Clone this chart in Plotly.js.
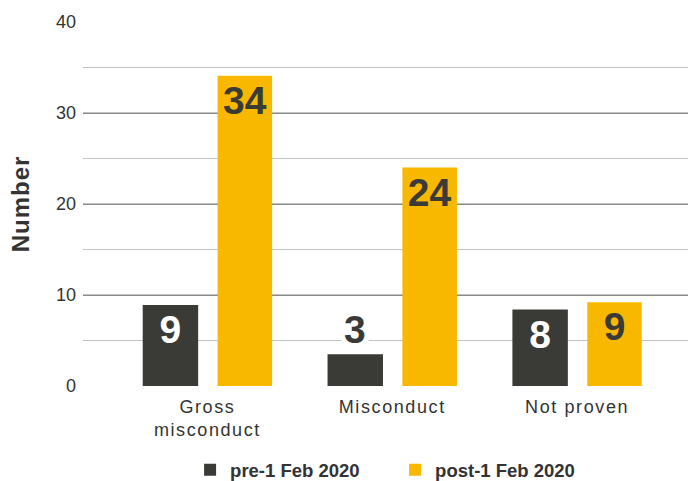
<!DOCTYPE html>
<html><head><meta charset="utf-8">
<script src="https://cdn.plot.ly/plotly-3.0.1.min.js"></script>
<style>html,body{margin:0;padding:0;background:#fff}#c{width:688px;height:481px}
#c .xtick text{letter-spacing:1.6px}
#c .ytitle{letter-spacing:1px}
</style>
</head><body><div id="c"></div>
<script>
const categories = ["Gross<br>misconduct", "Misconduct", "Not proven"];
const seriesNames = ["pre-1 Feb 2020", "post-1 Feb 2020"];
const preValues = [8.9, 3.5, 8.4];
const postValues = [34.1, 24, 9.2];
const preLabels = ["9", "3", "8"];
const postLabels = ["34", "24", "9"];
const yTicks = [0, 10, 20, 30, 40];

const DARK = "#3a3a36", GOLD = "#f9b800";
const FONT = "Liberation Sans, Arial, sans-serif";
const OUTSIDE_LIMIT = 5;

function posArr(vals){ return vals.map(v => v < OUTSIDE_LIMIT ? "none" : "inside"); }
function txtArr(vals, labels){ return labels.map((l,i) => vals[i] < OUTSIDE_LIMIT ? "" : l); }

const traces = [
  {type:"bar", name:seriesNames[0], x:categories, y:preValues, text:txtArr(preValues, preLabels),
   textposition:posArr(preValues), insidetextanchor:"end", constraintext:"none",
   textfont:{family:FONT, size:39, color:"#ffffff", weight:"bold"},
   marker:{color:DARK}, width:0.30, offset:-0.35, hoverinfo:"skip"},
  {type:"bar", name:seriesNames[1], x:categories, y:postValues, text:txtArr(postValues, postLabels),
   textposition:posArr(postValues), insidetextanchor:"end", constraintext:"none",
   textfont:{family:FONT, size:39, color:DARK, weight:"bold"},
   marker:{color:GOLD}, width:0.295, offset:0.055, hoverinfo:"skip"}
];

const annotations = [];
[[preValues, preLabels, -0.2], [postValues, postLabels, 0.2025]].forEach(([vals, labels, dx]) => {
  vals.forEach((v, i) => {
    if (v < OUTSIDE_LIMIT) {
      annotations.push({x: i + dx, y: v, xref:"x", yref:"y", text: labels[i], showarrow:false,
        yanchor:"bottom", yshift:0, bgcolor:"#ffffff", borderpad:2,
        font:{family:FONT, size:39, color:DARK, weight:"bold"}});
    }
  });
});

const layout = {
  width:688, height:481,
  margin:{l:83, r:0, t:22, b:95},
  paper_bgcolor:"#fff", plot_bgcolor:"#fff",
  font:{family:FONT, size:18, color:"#333"},
  barmode:"group",
  showlegend:true,
  legend:{orientation:"h", x:0.177, xanchor:"left", yref:"container", y:0.062, yanchor:"top",
    font:{family:FONT, size:18.5, color:"#333", weight:"bold"}, itemwidth:30,
    entrywidth:160, entrywidthmode:"pixels"},
  xaxis:{type:"category", range:[-0.673, 2.6], showgrid:false, zeroline:false, showline:false,
    ticks:"", ticklabelstandoff:8, tickfont:{family:FONT, size:18, color:"#333"}},
  yaxis:{range:[0, 40], tickvals:yTicks, ticktext:yTicks.map(String), showgrid:true,
    gridcolor:"#8a8a8a", gridwidth:1, zeroline:false, showline:false, ticks:"",
    ticklabelstandoff:6, tickfont:{family:FONT, size:18, color:"#333"},
    minor:{dtick:5, tick0:0, showgrid:true, gridcolor:"#c2c2c2", gridwidth:1.5},
    title:{text:"Number", standoff:19, font:{family:FONT, size:24, color:"#333", weight:"bold"}}},
  annotations: annotations
};
Plotly.newPlot("c", traces, layout, {displayModeBar:false, staticPlot:true});
</script></body></html>
